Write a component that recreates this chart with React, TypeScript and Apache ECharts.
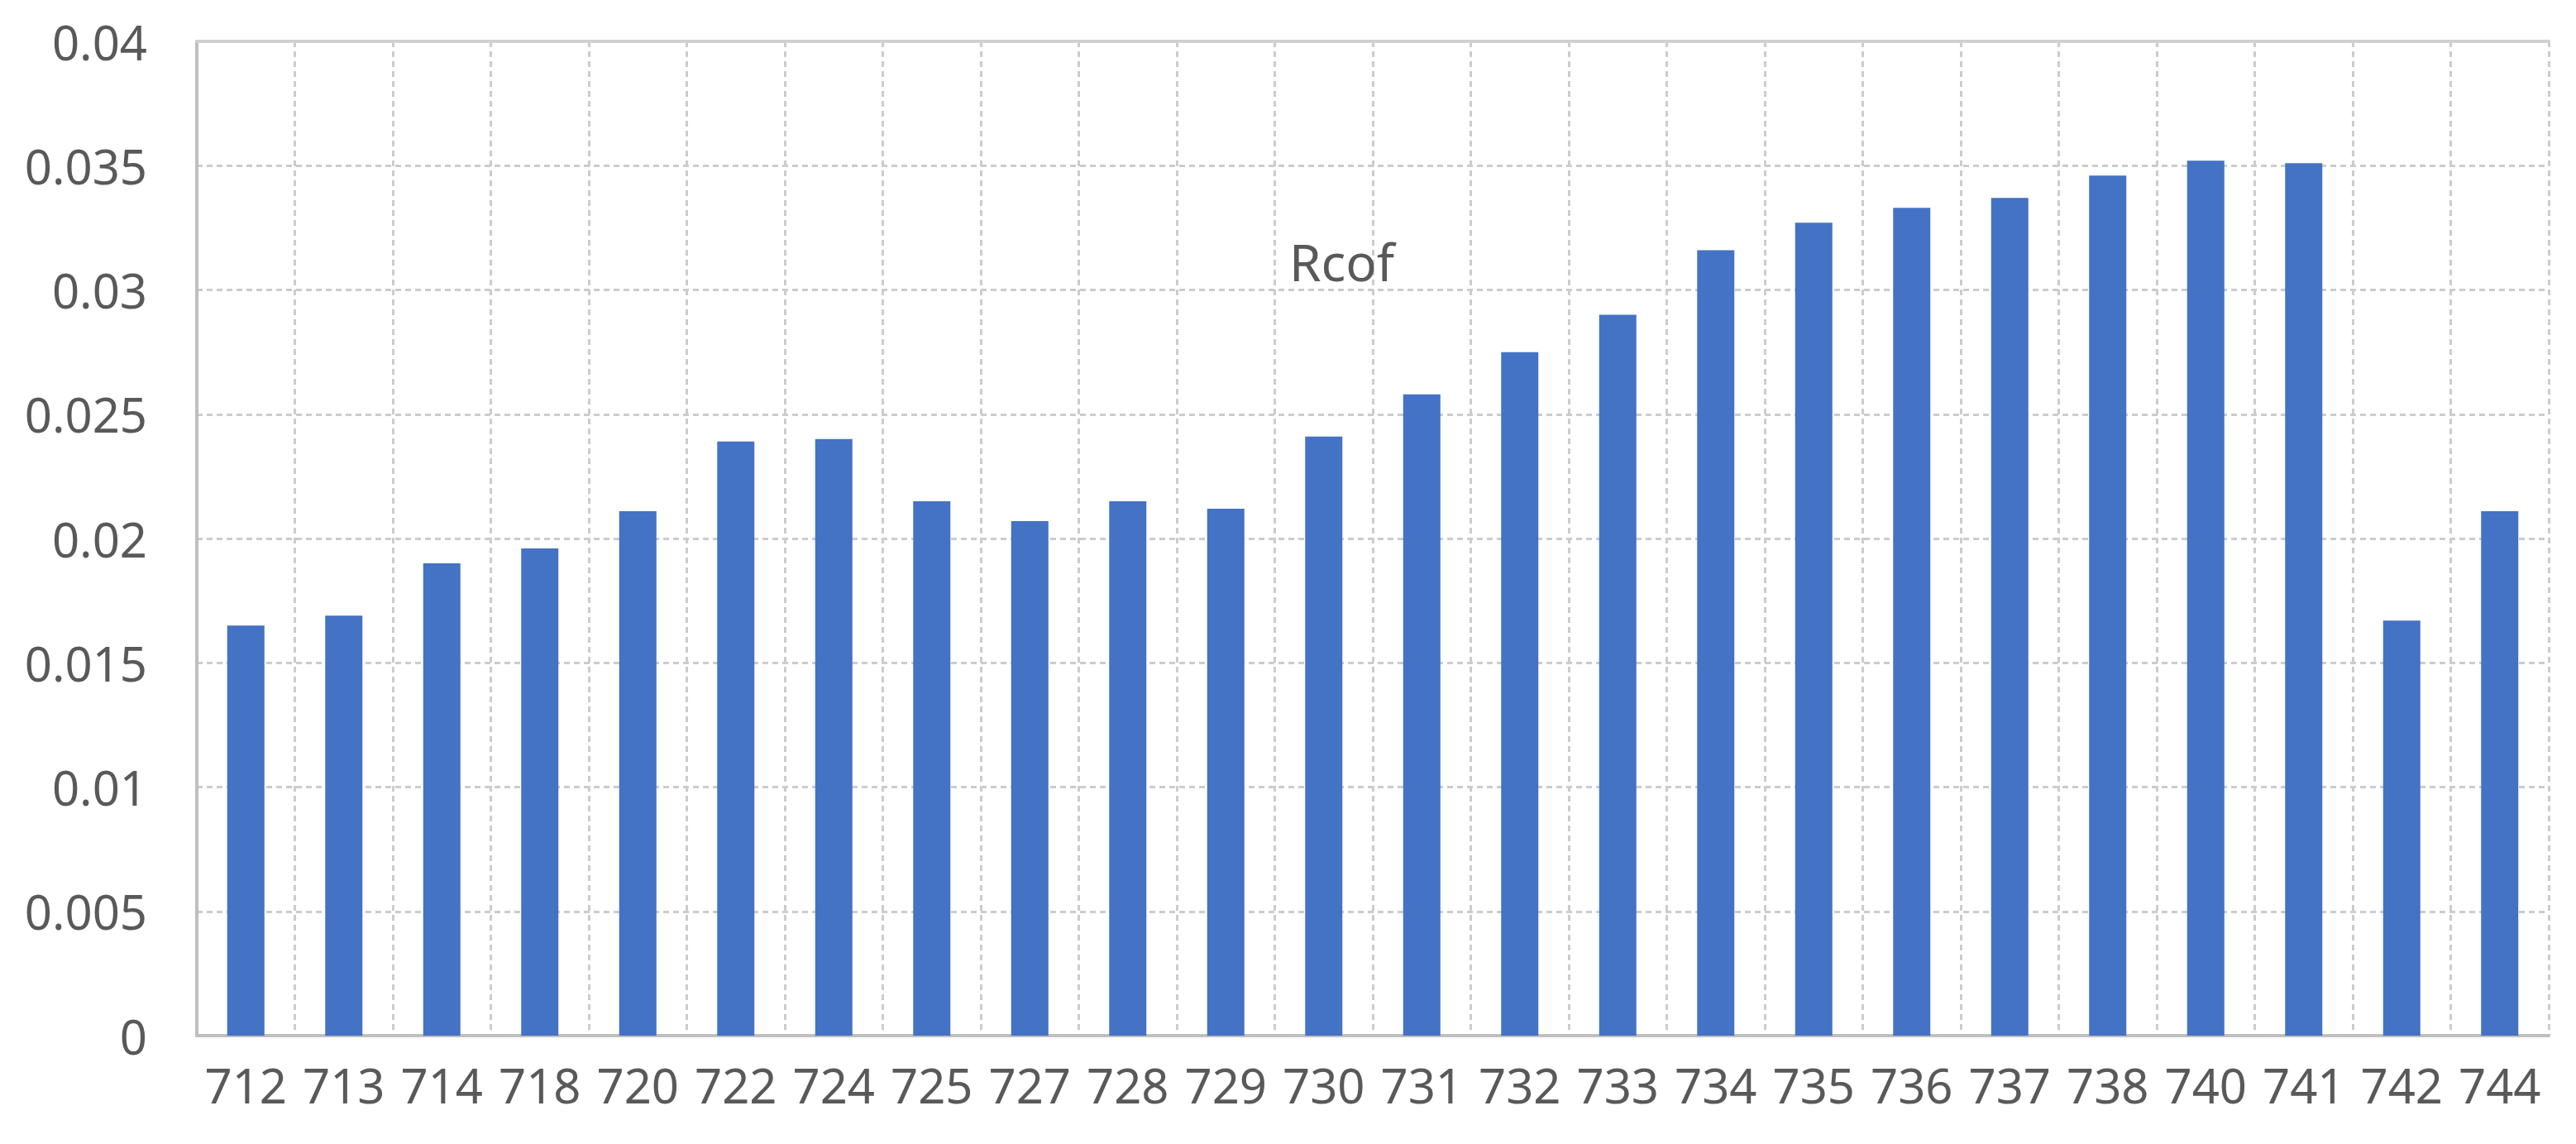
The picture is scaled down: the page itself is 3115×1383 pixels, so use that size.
import React, { useEffect, useRef } from "react";
import * as echarts from "echarts";

const categories = ["712", "713", "714", "718", "720", "722", "724", "725", "727", "728", "729", "730", "731", "732", "733", "734", "735", "736", "737", "738", "740", "741", "742", "744"];
const rcofValues = [0.0165, 0.0169, 0.019, 0.0196, 0.0211, 0.0239, 0.024, 0.0215, 0.0207, 0.0215, 0.0212, 0.0241, 0.0258, 0.0275, 0.029, 0.0316, 0.0327, 0.0333, 0.0337, 0.0346, 0.0352, 0.0351, 0.0167, 0.0211];
const yTicks = { min: 0, max: 0.04, interval: 0.005 };
const titleText = "Rcof";

export default function App() {
  const ref = useRef<HTMLDivElement>(null);
  useEffect(() => {
    document.body.style.margin = "0";
    const chart = echarts.init(ref.current!, null, { renderer: "svg" });
    const font = "'Noto Sans', 'Open Sans', sans-serif";
    chart.setOption({
      animation: false,
      backgroundColor: "#ffffff",
      title: {
        text: titleText,
        left: 1554,
        top: 280,
        textStyle: { fontFamily: font, fontSize: 62, fontWeight: "normal", color: "#595959" },
      },
      grid: { left: 238, right: 33, top: 50, bottom: 131, containLabel: false },
      xAxis: [
        {
          type: "category",
          data: categories,
          boundaryGap: true,
          axisLine: { show: true, lineStyle: { color: "#BFBFBF", width: 4 } },
          axisTick: { show: false },
          axisLabel: { fontFamily: font, fontSize: 58, color: "#595959", margin: 30, interval: 0 },
          splitLine: { show: true, interval: 0, lineStyle: { color: "#CCCCCC", width: 3, type: [7, 5] } },
        },
        {
          type: "category",
          data: categories,
          position: "top",
          axisLine: { show: true, lineStyle: { color: "#D0D0D0", width: 4 } },
          axisTick: { show: false },
          axisLabel: { show: false },
          splitLine: { show: false },
        },
      ],
      yAxis: {
        type: "value",
        min: yTicks.min,
        max: yTicks.max,
        interval: yTicks.interval,
        axisLine: { show: true, lineStyle: { color: "#BFBFBF", width: 4 } },
        axisTick: { show: false },
        axisLabel: { fontFamily: font, fontSize: 58, color: "#595959", margin: 60 },
        splitLine: { show: true, lineStyle: { color: "#CCCCCC", width: 3, type: [7, 5] } },
      },
      series: [
        {
          type: "bar",
          name: titleText,
          data: rcofValues,
          barWidth: 45,
          itemStyle: { color: "#4472C4" },
        },
      ],
    });
    return () => chart.dispose();
  }, []);
  return <div ref={ref} style={{ width: 3115, height: 1383 }} />;
}
